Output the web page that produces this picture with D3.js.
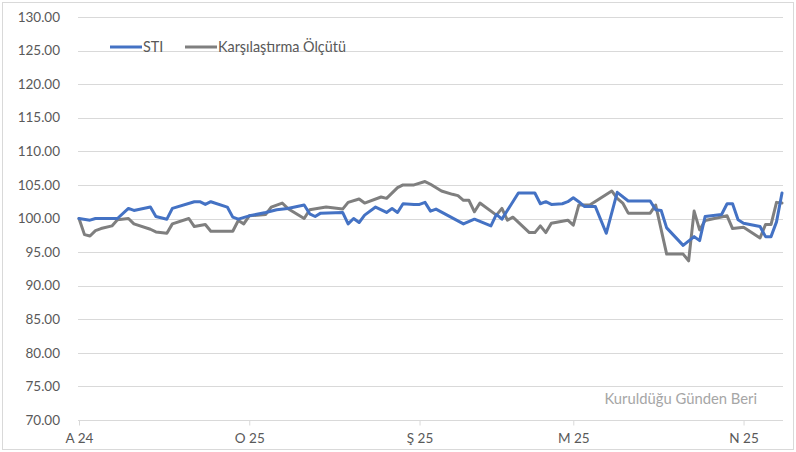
<!DOCTYPE html>
<html>
<head>
<meta charset="utf-8">
<script src="https://cdn.jsdelivr.net/npm/d3@7"></script>
<style>
  body { margin: 0; background: #fff; }
  svg { display: block; font-family: Lato, "Open Sans", sans-serif; }
</style>
</head>
<body>
<svg id="chart"></svg>
<script>
const width = 796
const height = 452

// STI fon değerleri
const stiDates = ['2024-12-01','2024-12-03','2024-12-04','2024-12-08','2024-12-10','2024-12-11','2024-12-14','2024-12-15','2024-12-17','2024-12-18',
  '2024-12-22','2024-12-23','2024-12-24','2024-12-25','2024-12-28','2024-12-29','2024-12-30','2025-01-01','2025-01-04','2025-01-06',
  '2025-01-08','2025-01-11','2025-01-12','2025-01-13','2025-01-14','2025-01-18','2025-01-19','2025-01-20','2025-01-21','2025-01-22',
  '2025-01-24','2025-01-26','2025-01-27','2025-01-28','2025-01-29','2025-01-31','2025-02-01','2025-02-02','2025-02-03','2025-02-04',
  '2025-02-09','2025-02-11','2025-02-14','2025-02-15','2025-02-16','2025-02-19','2025-02-22','2025-02-23','2025-02-24','2025-02-25',
  '2025-02-27','2025-02-28','2025-03-01','2025-03-02','2025-03-03','2025-03-05','2025-03-07','2025-03-09','2025-03-11','2025-03-15',
  '2025-03-16','2025-03-17','2025-03-18','2025-03-21','2025-03-23','2025-03-24','2025-03-25','2025-03-28','2025-03-29','2025-03-30',
  '2025-03-31','2025-04-01','2025-04-04','2025-04-05','2025-04-06','2025-04-07','2025-04-08']
const stiValues = [100.0, 99.75, 100.0, 100.0, 101.5, 101.2, 101.7, 100.3, 99.9, 101.5,
  102.5, 102.5, 102.1, 102.5, 101.7, 100.2, 99.9, 100.4, 100.9, 101.3,
  101.5, 102.0, 100.7, 100.3, 100.8, 100.9, 99.2, 100.0, 99.4, 100.5,
  101.7, 100.9, 101.5, 100.9, 102.2, 102.1, 102.1, 102.4, 101.1, 101.4,
  99.2, 99.9, 98.9, 100.6, 99.9, 103.8, 103.8, 102.2, 102.5, 102.1,
  102.2, 102.5, 103.1, 102.5, 101.8, 101.8, 97.8, 103.9, 102.6, 102.6,
  101.3, 101.2, 98.6, 96.0, 97.3, 96.7, 100.3, 100.6, 102.2, 102.2,
  99.8, 99.3, 98.8, 97.3, 97.3, 99.5, 103.8]

// Karşılaştırma ölçütü
const benchDates = ['2024-12-01','2024-12-02','2024-12-03','2024-12-04','2024-12-05','2024-12-07','2024-12-08','2024-12-10','2024-12-11','2024-12-14',
  '2024-12-15','2024-12-17','2024-12-18','2024-12-21','2024-12-22','2024-12-24','2024-12-25','2024-12-29','2024-12-30','2024-12-31',
  '2025-01-01','2025-01-04','2025-01-05','2025-01-07','2025-01-08','2025-01-11','2025-01-12','2025-01-15','2025-01-18','2025-01-19',
  '2025-01-21','2025-01-22','2025-01-25','2025-01-26','2025-01-28','2025-01-29','2025-01-31','2025-02-02','2025-02-03','2025-02-05',
  '2025-02-07','2025-02-08','2025-02-09','2025-02-10','2025-02-11','2025-02-12','2025-02-15','2025-02-16','2025-02-17','2025-02-18',
  '2025-02-21','2025-02-22','2025-02-23','2025-02-24','2025-02-25','2025-02-28','2025-03-01','2025-03-02','2025-03-04','2025-03-08',
  '2025-03-09','2025-03-10','2025-03-11','2025-03-15','2025-03-16','2025-03-18','2025-03-21','2025-03-22','2025-03-23','2025-03-24',
  '2025-03-25','2025-03-29','2025-03-30','2025-04-01','2025-04-04','2025-04-05','2025-04-06','2025-04-07','2025-04-08']
const benchValues = [100.0, 97.6, 97.4, 98.2, 98.5, 98.9, 99.8, 100.0, 99.2, 98.4,
  98.0, 97.8, 99.2, 100.0, 98.8, 99.1, 98.1, 98.1, 99.7, 99.2,
  100.4, 100.6, 101.7, 102.3, 101.5, 100.0, 101.3, 101.7, 101.4, 102.4,
  102.9, 102.3, 103.2, 103.0, 104.6, 105.0, 105.0, 105.5, 105.1, 104.1,
  103.6, 103.4, 102.7, 102.7, 101.0, 102.3, 100.5, 101.5, 99.75, 100.2,
  97.9, 97.9, 98.9, 97.9, 99.3, 99.75, 99.0, 102.0, 102.0, 104.1,
  103.0, 102.3, 100.8, 100.8, 102.0, 94.7, 94.7, 93.7, 101.1, 98.3,
  99.7, 100.4, 98.5, 98.7, 97.1, 99.1, 99.1, 102.4, 102.3]

const tickDates = ['2024-12-01', '2025-01-01', '2025-02-01', '2025-03-01', '2025-04-01']
const tickLabels = ['A 24', 'O 25', 'Ş 25', 'M 25', 'N 25']
const yTicks = d3.range(70, 130.01, 5)

const seriesNames = ['STI', 'Karşılaştırma Ölçütü']
const seriesColors = ['#4472C4', '#7F7F7F']
const note = 'Kuruldüğu Günden Beri'

const parse = d3.utcParse('%Y-%m-%d')
const series = [
  stiDates.map((d, i) => ({ date: parse(d), value: stiValues[i] })),
  benchDates.map((d, i) => ({ date: parse(d), value: benchValues[i] }))
]

const margin = { left: 79, right: 14, top: 17, bottom: 32 }

const x = d3.scaleUtc()
  .domain([parse(stiDates[0]), parse(stiDates[stiDates.length - 1])])
  .range([margin.left, width - margin.right])

const y = d3.scaleLinear()
  .domain([70, 130])
  .range([height - margin.bottom, margin.top])

const svg = d3.select('#chart').attr('width', width).attr('height', height)

svg.append('rect')
  .attr('x', 2.5).attr('y', 2.5)
  .attr('width', width - 5).attr('height', height - 5)
  .attr('fill', '#fff')
  .attr('stroke', '#d9d9d9')

// yatay ızgara
svg.append('g')
  .selectAll('line')
  .data(yTicks)
  .enter().append('line')
  .attr('x1', margin.left - 1)
  .attr('x2', width - margin.right + 1)
  .attr('y1', d => Math.round(y(d)) + 0.5)
  .attr('y2', d => Math.round(y(d)) + 0.5)
  .attr('stroke', '#d9d9d9')
  .attr('stroke-width', 1)

// y etiketleri
svg.append('g')
  .selectAll('text')
  .data(yTicks)
  .enter().append('text')
  .attr('x', 60)
  .attr('y', d => y(d))
  .attr('dy', '0.35em')
  .attr('text-anchor', 'end')
  .attr('fill', '#595959')
  .style('font-size', '13.5px')
  .text(d => d3.format('.2f')(d))

// x ekseni
const xAxis = d3.axisBottom(x)
  .tickValues(tickDates.map(parse))
  .tickFormat((d, i) => tickLabels[i])
  .tickSize(5)
  .tickPadding(8)

const gx = svg.append('g')
  .attr('transform', `translate(0,${Math.round(y(70)) + 0.5})`)
  .call(xAxis)
gx.select('.domain').remove()
gx.selectAll('.tick line').attr('stroke', '#d9d9d9')
gx.selectAll('.tick text')
  .attr('fill', '#595959')
  .style('font-family', 'Lato, "Open Sans", sans-serif')
  .style('font-size', '13.5px')

// çizgiler
const line = d3.line()
  .x(d => x(d.date))
  .y(d => y(d.value))

svg.append('g')
  .selectAll('path')
  .data(series.slice().reverse())
  .enter().append('path')
  .attr('d', line)
  .attr('fill', 'none')
  .attr('stroke', (d, i) => seriesColors[1 - i])
  .attr('stroke-width', 3)
  .attr('stroke-linejoin', 'round')
  .attr('stroke-linecap', 'round')

// lejant
const legendX = [110, 185]
const legend = svg.append('g')
  .selectAll('g')
  .data(seriesNames)
  .enter().append('g')
  .attr('transform', (d, i) => `translate(${legendX[i]},47)`)
legend.append('line')
  .attr('x1', 0).attr('x2', 32)
  .attr('stroke', (d, i) => seriesColors[i])
  .attr('stroke-width', 3)
legend.append('text')
  .attr('x', 33)
  .attr('dy', '0.35em')
  .attr('fill', '#595959')
  .style('font-size', '14.4px')
  .text(d => d)

svg.append('text')
  .attr('x', 757)
  .attr('y', 399)
  .attr('dy', '0.35em')
  .attr('text-anchor', 'end')
  .attr('fill', '#a6a6a6')
  .style('font-size', '14.8px')
  .text(note)
</script>
</body>
</html>
